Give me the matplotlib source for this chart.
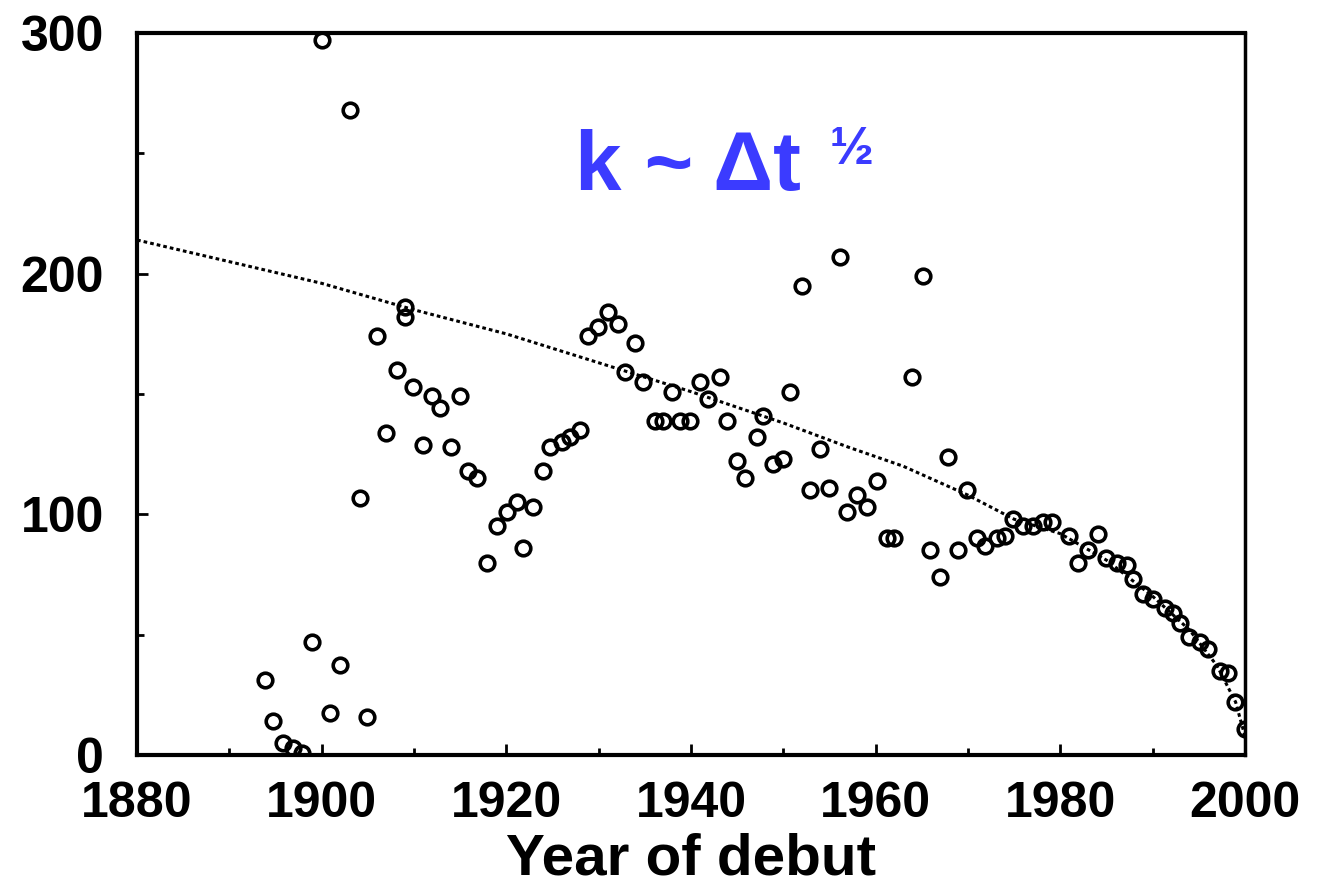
import numpy as np
import matplotlib.pyplot as plt
from matplotlib.ticker import MultipleLocator

# ── debut year vs. k for each player ─────────────────────────────────────────
years = [
    1893.9, 1894.7, 1895.8, 1896.9, 1897.9, 1899.0, 1900.9, 1902.0, 1904.9,
    1900.0, 1903.1, 1904.2, 1906.0, 1907.0, 1908.2, 1909.0, 1909.0, 1909.9,
    1911.0, 1912.0, 1912.8, 1914.0, 1915.0, 1915.8, 1916.8, 1917.9, 1919.0,
    1920.1, 1921.2, 1921.8, 1922.9, 1924.0, 1924.7, 1926.0, 1926.9, 1928.0,
    1928.8, 1929.9, 1931.0, 1932.1, 1932.9, 1933.9, 1934.8, 1936.1, 1937.0,
    1938.0, 1938.8, 1939.9, 1941.0, 1941.8, 1943.1, 1943.9, 1945.0, 1945.8,
    1947.2, 1947.8, 1948.9, 1950.0, 1950.7, 1952.0, 1952.9, 1954.0, 1955.0,
    1956.1, 1956.9, 1958.0, 1959.1, 1960.1, 1961.2, 1962.0, 1963.9, 1965.1,
    1965.9, 1967.0, 1967.8, 1968.9, 1969.9, 1971.0, 1971.8, 1973.1, 1974.0,
    1974.9, 1976.0, 1977.0, 1978.1, 1979.1, 1981.0, 1981.9, 1983.0, 1984.1,
    1985.0, 1986.1, 1987.2, 1987.9, 1989.0, 1990.0, 1991.3, 1992.2, 1993.0,
    1994.0, 1995.1, 1996.0, 1997.3, 1998.2, 1998.9, 2000.0,
]
k_values = [
    31, 14, 5, 3, 1, 47, 17.5, 37.5, 15.8,
    297, 268, 107, 174, 134, 160, 186, 182, 153,
    129, 149, 144, 128, 149, 118, 115, 80, 95,
    101, 105, 86, 103, 118, 128, 130, 132, 135,
    174, 178, 184, 179, 159, 171, 155, 139, 139,
    151, 139, 139, 155, 148, 157, 139, 122, 115,
    132, 141, 121, 123, 151, 195, 110, 127, 111,
    207, 101, 108, 103, 114, 90, 90, 157, 199,
    85, 74, 124, 85, 110, 90, 87, 90, 91,
    98, 95, 95, 97, 97, 91, 80, 85, 92,
    82, 80, 79, 73, 67, 65, 61, 59, 55,
    49, 47, 44, 35, 34, 22, 11,
]

# square-root trend line
fit_years = [1880, 1890, 1900, 1910, 1920, 1930, 1940, 1950, 1957, 1963,
             1970, 1975, 1980, 1985, 1990, 1994, 1997, 1999, 2000]
fit_k = [214, 205, 196, 185, 175, 163, 151, 138, 128, 120,
         108, 98, 92, 81, 66, 52, 37, 22, 8]

LABEL_FONT = "Liberation Sans"
BLUE = "#3b3bff"

fig = plt.figure(figsize=(13.18, 8.93), dpi=100)
ax = fig.add_axes([0.104, 0.1545, 0.8405, 0.8085])

ax.plot(fit_years, fit_k, color="black", linewidth=2.2,
        linestyle=(0, (1.2, 1.0)), zorder=2)
ax.plot(years, k_values, "o", markersize=10.5, markerfacecolor="none",
        markeredgecolor="black", markeredgewidth=2.6, zorder=3)

ax.set_xlim(1880, 2000)
ax.set_ylim(0, 300)

ax.xaxis.set_major_locator(MultipleLocator(20))
ax.xaxis.set_minor_locator(MultipleLocator(10))
ax.yaxis.set_major_locator(MultipleLocator(100))
ax.yaxis.set_minor_locator(MultipleLocator(50))

ax.tick_params(axis="both", which="both", direction="in", color="black",
               top=False, right=False)
ax.tick_params(axis="both", which="major", length=8, width=2)
ax.tick_params(axis="both", which="minor", length=5, width=2)
ax.tick_params(axis="x", which="major", pad=19)
ax.tick_params(axis="y", which="major", pad=24)

for lab in ax.get_xticklabels() + ax.get_yticklabels():
    lab.set_fontfamily(LABEL_FONT)
    lab.set_fontweight("bold")
    lab.set_fontsize(36)

for side in ["left", "bottom", "top"]:
    ax.spines[side].set_linewidth(3)
ax.spines["right"].set_linewidth(2.5)

ax.set_xlabel("Year of debut", fontfamily=LABEL_FONT, fontweight="bold",
              fontsize=42, labelpad=4)

ax.text(1927.4, 234.6, "k ~ \u0394t", fontfamily=LABEL_FONT, fontweight="bold",
        fontsize=60, color=BLUE, ha="left", va="baseline")
ax.text(1955.0, 245.5, "\u00bd", fontfamily=LABEL_FONT, fontweight="bold",
        fontsize=38, color=BLUE, ha="left", va="baseline")

fig.savefig("out.png", dpi=100, facecolor="white")
